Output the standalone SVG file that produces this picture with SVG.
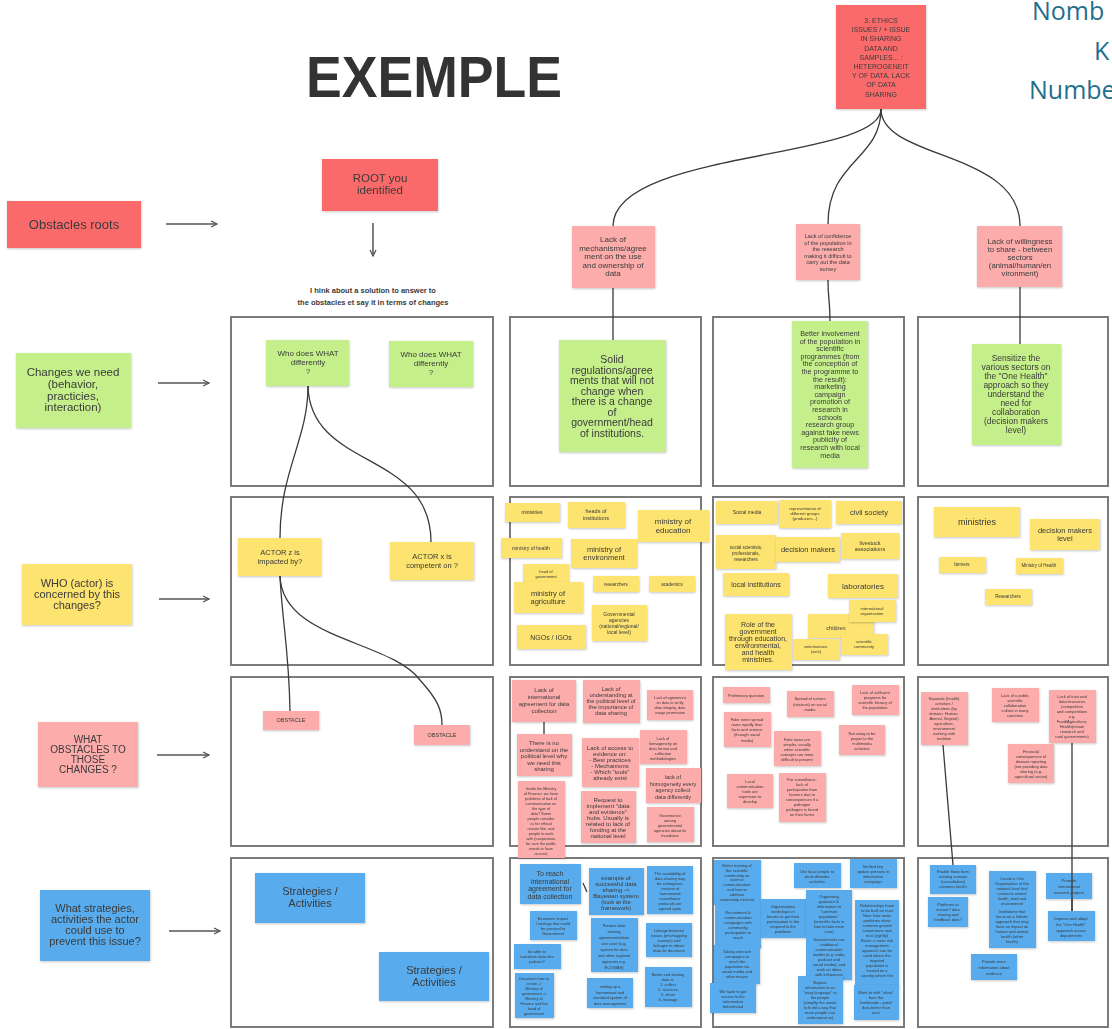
<svg xmlns="http://www.w3.org/2000/svg" width="1112" height="1029" viewBox="0 0 1112 1029">
<style>
.r{fill:#fb6b6b}.p{fill:#fdacac}.g{fill:#c5ef8b}.y{fill:#fde36f}.b{fill:#58abec}
.n{filter:url(#sh)}
.t{font-family:"Liberation Sans",Arial,sans-serif;fill:#3a3a3a;text-anchor:middle}
.box{fill:none;stroke:#7a7a7a;stroke-width:2}
.c{fill:none;stroke:#3a3a3a;stroke-width:1.3}
.a{fill:none;stroke:#555;stroke-width:1.5;marker-end:url(#ah)}
.tl{font-family:"Open Sans","Liberation Sans",sans-serif;fill:#1f6f8c;font-size:25px}
</style>
<defs>
<filter id="sh" x="-10%" y="-10%" width="120%" height="130%"><feDropShadow dx="0.5" dy="1" stdDeviation="0.8" flood-color="#000" flood-opacity="0.22"/></filter>
<marker id="ah" markerWidth="8" markerHeight="8" refX="7" refY="4" orient="auto" markerUnits="userSpaceOnUse"><path d="M1,1 L7,4 L1,7" fill="none" stroke="#555" stroke-width="1.3"/></marker>
</defs>
<rect width="1112" height="1029" fill="#fff"/>

<g id="title"><text x="306" y="97" font-family="Liberation Sans,Arial,sans-serif" font-weight="bold" font-size="58" fill="#333" textLength="256" lengthAdjust="spacingAndGlyphs">EXEMPLE</text></g>
<g id="corner-text"><text class="tl" x="1032" y="20">Nomb</text><text class="tl" x="1094" y="60">K</text><text class="tl" x="1029" y="99">Numbe</text></g>

<g id="frames">
<rect class="box" x="231" y="317" width="262" height="169"/><rect class="box" x="510" y="317" width="191" height="169"/><rect class="box" x="713" y="317" width="191" height="169"/><rect class="box" x="918" y="317" width="190" height="169"/>
<rect class="box" x="231" y="497" width="262" height="168"/><rect class="box" x="510" y="497" width="191" height="168"/><rect class="box" x="713" y="497" width="191" height="168"/><rect class="box" x="918" y="497" width="190" height="168"/>
<rect class="box" x="231" y="677" width="262" height="169"/><rect class="box" x="510" y="677" width="191" height="169"/><rect class="box" x="713" y="677" width="191" height="169"/><rect class="box" x="918" y="677" width="190" height="169"/>
<rect class="box" x="231" y="858" width="262" height="169"/><rect class="box" x="510" y="858" width="191" height="169"/><rect class="box" x="713" y="858" width="191" height="169"/><rect class="box" x="918" y="858" width="190" height="169"/>
</g>

<g id="connectors">
<path class="c" d="M881,109 C881,160 613,150 613,226"/>
<path class="c" d="M881,109 C881,160 828,160 828,224"/>
<path class="c" d="M881,109 C881,160 1020,150 1020,226"/>
<path class="c" d="M613,288 L613,340"/>
<path class="c" d="M828,280 C828,300 830,300 830,321"/>
<path class="c" d="M1020,287 L1020,344"/>
<path class="c" d="M308,386 C308,440 280,470 280,538"/>
<path class="c" d="M308,386 C310,470 431,450 431,542"/>
<path class="c" d="M280,576 C282,620 289,650 290,711"/>
<path class="c" d="M280,576 C282,640 390,640 420,680 C438,700 442,710 442,725"/>
<path class="c" d="M943,745 L953,865"/>
<path class="c" d="M1072,743 L1072,911"/>
<path class="c" d="M544,722 L544,734"/>
<path class="c" d="M583,883 L587,892"/>
<path class="c" d="M823,973 L829,983"/>
<path class="c" d="M877,983 L878,989"/>
<path class="a" d="M166,224 L217,224"/>
<path class="a" d="M373,223 L373,256"/>
<path class="a" d="M158,383 L209,383"/>
<path class="a" d="M159,599 L209,599"/>
<path class="a" d="M157,755 L209,755"/>
<path class="a" d="M169,931 L220,931"/>
</g>

<g id="ethics" class="n"><rect class="r" x="836" y="5" width="90" height="104"/><text class="t" font-size="7"><tspan x="881" y="23">3. ETHICS</tspan><tspan x="881" y="32.2">ISSUES / + ISSUE</tspan><tspan x="881" y="41.4">IN SHARING</tspan><tspan x="881" y="50.6">DATA AND</tspan><tspan x="881" y="59.8">SAMPLES... :</tspan><tspan x="881" y="69">HETEROGENEIT</tspan><tspan x="881" y="78.2">Y OF DATA, LACK</tspan><tspan x="881" y="87.4">OF DATA</tspan><tspan x="881" y="96.6">SHARING</tspan></text></g>

<g id="obstacles-roots" class="n"><rect class="r" x="7" y="201" width="134" height="47"/><text class="t" font-size="13" x="74" y="229">Obstacles roots</text></g>
<g id="root" class="n"><rect class="r" x="322" y="159" width="116" height="52"/><text class="t" font-size="11.5"><tspan x="380" y="182">ROOT you</tspan><tspan x="380" y="194">identified</tspan></text></g>
<g id="think"><text class="t" font-size="7.5" font-weight="bold"><tspan x="373" y="293">I hink about a solution to answer to</tspan><tspan x="373" y="305">the obstacles et say it in terms of changes</tspan></text></g>

<g id="changes-label" class="n"><rect class="g" x="16" y="353" width="115" height="75"/><text class="t" font-size="11.5"><tspan x="73" y="376">Changes we need</tspan><tspan x="73" y="388">(behavior,</tspan><tspan x="73" y="400">practicies,</tspan><tspan x="73" y="411">interaction)</tspan></text></g>
<g id="who-label" class="n"><rect class="y" x="22" y="564" width="110" height="61"/><text class="t" font-size="11"><tspan x="77" y="587">WHO (actor) is</tspan><tspan x="77" y="598">concerned by this</tspan><tspan x="77" y="609">changes?</tspan></text></g>
<g id="what-label" class="n"><rect class="p" x="38" y="722" width="100" height="65"/><text class="t" font-size="10"><tspan x="88" y="743">WHAT</tspan><tspan x="88" y="753">OBSTACLES TO</tspan><tspan x="88" y="763">THOSE</tspan><tspan x="88" y="773">CHANGES ?</tspan></text></g>
<g id="strat-label" class="n"><rect class="b" x="40" y="890" width="110" height="71"/><text class="t" font-size="11"><tspan x="95" y="912">What strategies,</tspan><tspan x="95" y="923">activities the actor</tspan><tspan x="95" y="934">could use to</tspan><tspan x="95" y="945">prevent this issue?</tspan></text></g>

<g id="who-what-1" class="n"><rect class="g" x="266" y="340" width="83" height="46"/><text class="t" font-size="8"><tspan x="308" y="356">Who does WHAT</tspan><tspan x="308" y="365">differently</tspan><tspan x="308" y="374">?</tspan></text></g>
<g id="who-what-2" class="n"><rect class="g" x="389" y="341" width="84" height="46"/><text class="t" font-size="8"><tspan x="431" y="357">Who does WHAT</tspan><tspan x="431" y="366">differently</tspan><tspan x="431" y="375">?</tspan></text></g>
<g id="actor-z" class="n"><rect class="y" x="238" y="538" width="83" height="38"/><text class="t" font-size="7.5"><tspan x="280" y="555">ACTOR z is</tspan><tspan x="280" y="564">impacted by?</tspan></text></g>
<g id="actor-x" class="n"><rect class="y" x="390" y="542" width="84" height="38"/><text class="t" font-size="7.5"><tspan x="432" y="559">ACTOR x is</tspan><tspan x="432" y="568">competent on ?</tspan></text></g>
<g id="obstacle-1" class="n"><rect class="p" x="263" y="711" width="56" height="19"/><text class="t" font-size="5.5" x="291" y="722">OBSTACLE</text></g>
<g id="obstacle-2" class="n"><rect class="p" x="414" y="725" width="56" height="20"/><text class="t" font-size="5.5" x="442" y="737">OBSTACLE</text></g>
<g id="strategies-1" class="n"><rect class="b" x="255" y="873" width="110" height="50"/><text class="t" font-size="11"><tspan x="310" y="895">Strategies /</tspan><tspan x="310" y="907">Activities</tspan></text></g>
<g id="strategies-2" class="n"><rect class="b" x="379" y="952" width="110" height="49"/><text class="t" font-size="11"><tspan x="434" y="974">Strategies /</tspan><tspan x="434" y="986">Activities</tspan></text></g>

<g id="root-1" class="n"><rect class="p" x="572" y="226" width="83" height="62"/><text class="t" font-size="8"><tspan x="613" y="242">Lack of</tspan><tspan x="613" y="250.5">mechanisms/agree</tspan><tspan x="613" y="259">ment on the use</tspan><tspan x="613" y="267.5">and ownership of</tspan><tspan x="613" y="276">data</tspan></text></g>
<g id="root-2" class="n"><rect class="p" x="796" y="224" width="64" height="56"/><text class="t" font-size="5.6"><tspan x="828" y="238">Lack of confidence</tspan><tspan x="828" y="244.6">of the population in</tspan><tspan x="828" y="251.2">the research</tspan><tspan x="828" y="257.8">making it difficult to</tspan><tspan x="828" y="264.4">carry out the data</tspan><tspan x="828" y="271">survey</tspan></text></g>
<g id="root-3" class="n"><rect class="p" x="977" y="226" width="85" height="61"/><text class="t" font-size="7.8"><tspan x="1020" y="244">Lack of willingness</tspan><tspan x="1020" y="252">to share - between</tspan><tspan x="1020" y="260">sectors</tspan><tspan x="1020" y="268">(animal/human/en</tspan><tspan x="1020" y="276">vironment)</tspan></text></g>

<g id="change-b" class="n"><rect class="g" x="559" y="340" width="107" height="112"/><text class="t" font-size="10.5"><tspan x="612" y="363">Solid</tspan><tspan x="612" y="373.5">regulations/agree</tspan><tspan x="612" y="384">ments that will not</tspan><tspan x="612" y="394.5">change when</tspan><tspan x="612" y="405">there is a change</tspan><tspan x="612" y="415.5">of</tspan><tspan x="612" y="426">government/head</tspan><tspan x="612" y="436.5">of institutions.</tspan></text></g>
<g id="change-c" class="n"><rect class="g" x="792" y="321" width="76" height="147"/><text class="t" font-size="7.2"><tspan x="830" y="336">Better involvement</tspan><tspan x="830" y="343.6">of the population in</tspan><tspan x="830" y="351.2">scientific</tspan><tspan x="830" y="358.8">programmes (from</tspan><tspan x="830" y="366.4">the conception of</tspan><tspan x="830" y="374">the programme to</tspan><tspan x="830" y="381.6">the result):</tspan><tspan x="830" y="389.2">marketing</tspan><tspan x="830" y="396.8">campaign</tspan><tspan x="830" y="404.4">promotion of</tspan><tspan x="830" y="412">research in</tspan><tspan x="830" y="419.6">schools</tspan><tspan x="830" y="427.2">research group</tspan><tspan x="830" y="434.8">against fake news</tspan><tspan x="830" y="442.4">publicity of</tspan><tspan x="830" y="450">research with local</tspan><tspan x="830" y="457.6">media</tspan></text></g>
<g id="change-d" class="n"><rect class="g" x="972" y="344" width="89" height="101"/><text class="t" font-size="8.5"><tspan x="1016" y="361">Sensitize the</tspan><tspan x="1016" y="370">various sectors on</tspan><tspan x="1016" y="379">the "One Health"</tspan><tspan x="1016" y="388">approach so they</tspan><tspan x="1016" y="397">understand the</tspan><tspan x="1016" y="406">need for</tspan><tspan x="1016" y="415">collaboration</tspan><tspan x="1016" y="424">(decision makers</tspan><tspan x="1016" y="433">level)</tspan></text></g>

<g id="who-b">
<g class="n"><rect class="y" x="505" y="503" width="55" height="19"/><text class="t" font-size="5" x="532" y="514">ministries</text></g>
<g class="n"><rect class="y" x="568" y="502" width="57" height="26"/><text class="t" font-size="5.5"><tspan x="596" y="513">heads of</tspan><tspan x="596" y="520">institutions</tspan></text></g>
<g class="n"><rect class="y" x="638" y="510" width="71" height="32"/><text class="t" font-size="8"><tspan x="673" y="524">ministry of</tspan><tspan x="673" y="533">education</tspan></text></g>
<g class="n"><rect class="y" x="501" y="538" width="61" height="20"/><text class="t" font-size="5" x="531" y="550">ministry of health</text></g>
<g class="n"><rect class="y" x="571" y="539" width="66" height="29"/><text class="t" font-size="7.5"><tspan x="604" y="552">ministry of</tspan><tspan x="604" y="560">environment</tspan></text></g>
<g class="n"><rect class="y" x="523" y="564" width="46" height="20"/><text class="t" font-size="4"><tspan x="546" y="573">head of</tspan><tspan x="546" y="578">government</tspan></text></g>
<g class="n"><rect class="y" x="514" y="582" width="69" height="31"/><text class="t" font-size="7.5"><tspan x="548" y="596">ministry of</tspan><tspan x="548" y="604">agriculture</tspan></text></g>
<g class="n"><rect class="y" x="593" y="576" width="46" height="16"/><text class="t" font-size="4.5" x="616" y="586">researchers</text></g>
<g class="n"><rect class="y" x="649" y="576" width="46" height="16"/><text class="t" font-size="4.5" x="672" y="586">academics</text></g>
<g class="n"><rect class="y" x="592" y="605" width="55" height="36"/><text class="t" font-size="5"><tspan x="619" y="616">Governmental</tspan><tspan x="619" y="622">agencies</tspan><tspan x="619" y="628">(national/regional/</tspan><tspan x="619" y="634">local level)</tspan></text></g>
<g class="n"><rect class="y" x="517" y="625" width="69" height="24"/><text class="t" font-size="7" x="551" y="640">NGOs / IGOs</text></g>
</g>

<g id="who-c">
<g class="n"><rect class="y" x="716" y="501" width="62" height="23"/><text class="t" font-size="5" x="747" y="514">Social media</text></g>
<g class="n"><rect class="y" x="779" y="500" width="52" height="28"/><text class="t" font-size="4.2"><tspan x="805" y="510">representation of</tspan><tspan x="805" y="515">different groups</tspan><tspan x="805" y="520">(producers...)</tspan></text></g>
<g class="n"><rect class="y" x="836" y="501" width="66" height="23"/><text class="t" font-size="7.5" x="869" y="515">civil society</text></g>
<g class="n"><rect class="y" x="716" y="535" width="60" height="34"/><text class="t" font-size="4.5"><tspan x="746" y="549">social scientists,</tspan><tspan x="746" y="555">professionals,</tspan><tspan x="746" y="561">researchers</tspan></text></g>
<g class="n"><rect class="y" x="776" y="537" width="64" height="25"/><text class="t" font-size="7.5" x="808" y="552">decision makers</text></g>
<g class="n"><rect class="y" x="841" y="533" width="58" height="26"/><text class="t" font-size="5.5"><tspan x="870" y="545">livestock</tspan><tspan x="870" y="551">associations</tspan></text></g>
<g class="n"><rect class="y" x="723" y="573" width="66" height="23"/><text class="t" font-size="7" x="756" y="587">local institutions</text></g>
<g class="n"><rect class="y" x="828" y="574" width="70" height="24"/><text class="t" font-size="8" x="863" y="589">laboratories</text></g>
<g class="n"><rect class="y" x="808" y="614" width="66" height="24"/><text class="t" font-size="5.5" x="836" y="630">children</text></g>
<g class="n"><rect class="y" x="849" y="600" width="47" height="22"/><text class="t" font-size="4.2"><tspan x="872" y="610">international</tspan><tspan x="872" y="615">organisation</tspan></text></g>
<g class="n"><rect class="y" x="725" y="614" width="67" height="56"/><text class="t" font-size="7"><tspan x="758" y="627">Role of the</tspan><tspan x="758" y="634">government</tspan><tspan x="758" y="641">through education,</tspan><tspan x="758" y="648">environmental,</tspan><tspan x="758" y="655">and health</tspan><tspan x="758" y="662">ministries.</tspan></text></g>
<g class="n"><rect class="y" x="793" y="639" width="47" height="21"/><text class="t" font-size="4"><tspan x="816" y="648">veterinarians,</tspan><tspan x="816" y="653">(vets)</tspan></text></g>
<g class="n"><rect class="y" x="841" y="634" width="47" height="21"/><text class="t" font-size="4.2"><tspan x="864" y="643">scientific</tspan><tspan x="864" y="648">community</tspan></text></g>
</g>

<g id="who-d">
<g class="n"><rect class="y" x="934" y="507" width="86" height="30"/><text class="t" font-size="9" x="977" y="525">ministries</text></g>
<g class="n"><rect class="y" x="1030" y="519" width="70" height="31"/><text class="t" font-size="7.5"><tspan x="1065" y="533">decision makers</tspan><tspan x="1065" y="541">level</tspan></text></g>
<g class="n"><rect class="y" x="939" y="557" width="47" height="16"/><text class="t" font-size="4.5" x="962" y="566">farmers</text></g>
<g class="n"><rect class="y" x="1016" y="558" width="47" height="16"/><text class="t" font-size="4.5" x="1039" y="567">Ministry of Health</text></g>
<g class="n"><rect class="y" x="985" y="589" width="47" height="16"/><text class="t" font-size="4.5" x="1008" y="598">Researchers</text></g>
</g>

<g id="obst-b">
<g class="n"><rect class="p" x="512" y="680" width="64" height="42"/><text class="t" font-size="6"><tspan x="544" y="692">Lack of</tspan><tspan x="544" y="699">international</tspan><tspan x="544" y="706">agreement for data</tspan><tspan x="544" y="713">collection</tspan></text></g>
<g class="n"><rect class="p" x="583" y="680" width="57" height="43"/><text class="t" font-size="5.8"><tspan x="611" y="691">Lack of</tspan><tspan x="611" y="697">understanding at</tspan><tspan x="611" y="703">the political level of</tspan><tspan x="611" y="709">the importance of</tspan><tspan x="611" y="715">data sharing</tspan></text></g>
<g class="n"><rect class="p" x="647" y="690" width="46" height="30"/><text class="t" font-size="3.8"><tspan x="670" y="699">Lack of agreement</tspan><tspan x="670" y="704">on data to verify</tspan><tspan x="670" y="709">data integrity, data</tspan><tspan x="670" y="714">usage permission</tspan></text></g>
<g class="n"><rect class="p" x="517" y="734" width="55" height="42"/><text class="t" font-size="6"><tspan x="544" y="745">There is no</tspan><tspan x="544" y="751.5">understand on the</tspan><tspan x="544" y="758">political level why</tspan><tspan x="544" y="764.5">we need this</tspan><tspan x="544" y="771">sharing</tspan></text></g>
<g class="n"><rect class="p" x="582" y="738" width="57" height="49"/><text class="t" font-size="6"><tspan x="610" y="750">Lack of access to</tspan><tspan x="610" y="756">evidence on:</tspan><tspan x="610" y="762">- Best practices</tspan><tspan x="610" y="768">- Mechanisms</tspan><tspan x="610" y="774">- Which "tools"</tspan><tspan x="610" y="780">already exist</tspan></text></g>
<g class="n"><rect class="p" x="640" y="730" width="47" height="34"/><text class="t" font-size="4"><tspan x="663" y="740">Lack of</tspan><tspan x="663" y="745">homogeneity on</tspan><tspan x="663" y="750">data format and</tspan><tspan x="663" y="755">collection</tspan><tspan x="663" y="760">methodologies</tspan></text></g>
<g class="n"><rect class="p" x="646" y="768" width="55" height="35"/><text class="t" font-size="5.5"><tspan x="673" y="779">lack of</tspan><tspan x="673" y="785.5">homogeneity every</tspan><tspan x="673" y="792">agency collect</tspan><tspan x="673" y="798.5">data differently</tspan></text></g>
<g class="n"><rect class="p" x="518" y="781" width="47" height="77"/><text class="t" font-size="3.8"><tspan x="541" y="790">Inside the Ministry</tspan><tspan x="541" y="795">of Finance: we have</tspan><tspan x="541" y="800">problems of lack of</tspan><tspan x="541" y="805">communication on</tspan><tspan x="541" y="810">the type of</tspan><tspan x="541" y="815">data? Some</tspan><tspan x="541" y="820">people consider</tspan><tspan x="541" y="825">us for ethical</tspan><tspan x="541" y="830">reason like, and</tspan><tspan x="541" y="835">people to work</tspan><tspan x="541" y="840">with (cooperation</tspan><tspan x="541" y="845">for sure the public</tspan><tspan x="541" y="850">needs to have</tspan><tspan x="541" y="855">access)</tspan></text></g>
<g class="n"><rect class="p" x="581" y="791" width="55" height="52"/><text class="t" font-size="6"><tspan x="608" y="802">Request to</tspan><tspan x="608" y="808">implement "data</tspan><tspan x="608" y="814">and evidence"</tspan><tspan x="608" y="820">hubs. Usually is</tspan><tspan x="608" y="826">related to lack of</tspan><tspan x="608" y="832">funding at the</tspan><tspan x="608" y="838">national level</tspan></text></g>
<g class="n"><rect class="p" x="647" y="807" width="47" height="35"/><text class="t" font-size="4"><tspan x="670" y="817">Governance</tspan><tspan x="670" y="822">among</tspan><tspan x="670" y="827">governmental</tspan><tspan x="670" y="832">agencies about its</tspan><tspan x="670" y="837">mandates</tspan></text></g>
</g>

<g id="obst-c">
<g class="n"><rect class="p" x="723" y="687" width="47" height="16"/><text class="t" font-size="4" x="746" y="697">Preliminary question</text></g>
<g class="n"><rect class="p" x="787" y="691" width="47" height="26"/><text class="t" font-size="4"><tspan x="810" y="700">Spread of rumors</tspan><tspan x="810" y="705.5">(mistrust) on social</tspan><tspan x="810" y="711">media</tspan></text></g>
<g class="n"><rect class="p" x="852" y="685" width="47" height="30"/><text class="t" font-size="4"><tspan x="875" y="694">Lack of sufficient</tspan><tspan x="875" y="699">programs for</tspan><tspan x="875" y="704">scientific literacy of</tspan><tspan x="875" y="709">the population</tspan></text></g>
<g class="n"><rect class="p" x="724" y="712" width="47" height="35"/><text class="t" font-size="4"><tspan x="747" y="721">Fake news spread</tspan><tspan x="747" y="726">more rapidly than</tspan><tspan x="747" y="731">facts and science</tspan><tspan x="747" y="736">(through social</tspan><tspan x="747" y="742">media)</tspan></text></g>
<g class="n"><rect class="p" x="774" y="731" width="47" height="35"/><text class="t" font-size="4"><tspan x="797" y="741">Fake news are</tspan><tspan x="797" y="746">simpler, usually</tspan><tspan x="797" y="751">when scientific</tspan><tspan x="797" y="756">concepts are more</tspan><tspan x="797" y="761">difficult to present</tspan></text></g>
<g class="n"><rect class="p" x="839" y="725" width="46" height="30"/><text class="t" font-size="4"><tspan x="862" y="735">Not using to be</tspan><tspan x="862" y="740">proper to the</tspan><tspan x="862" y="745">multimedia</tspan><tspan x="862" y="750">activities</tspan></text></g>
<g class="n"><rect class="p" x="727" y="774" width="46" height="34"/><text class="t" font-size="4"><tspan x="750" y="783">Local</tspan><tspan x="750" y="788">communication</tspan><tspan x="750" y="793">tools are</tspan><tspan x="750" y="798">expensive to</tspan><tspan x="750" y="803">develop</tspan></text></g>
<g class="n"><rect class="p" x="779" y="773" width="47" height="49"/><text class="t" font-size="4"><tspan x="802" y="781">For surveillance:</tspan><tspan x="802" y="786">lack of</tspan><tspan x="802" y="791">participation from</tspan><tspan x="802" y="796">farmers due to</tspan><tspan x="802" y="801">consequences if a</tspan><tspan x="802" y="806">pathogen</tspan><tspan x="802" y="811">pathogen is found</tspan><tspan x="802" y="816">on their farms</tspan></text></g>
</g>

<g id="obst-d">
<g class="n"><rect class="p" x="921" y="692" width="47" height="53"/><text class="t" font-size="4"><tspan x="944" y="700">Separate (health)</tspan><tspan x="944" y="705">activities /</tspan><tspan x="944" y="710">institutions (by</tspan><tspan x="944" y="715">domain: Human,</tspan><tspan x="944" y="720">Animal, Vegetal)</tspan><tspan x="944" y="725">agriculture,</tspan><tspan x="944" y="730">environment</tspan><tspan x="944" y="735">working with</tspan><tspan x="944" y="740">tradition</tspan></text></g>
<g class="n"><rect class="p" x="992" y="688" width="47" height="34"/><text class="t" font-size="4"><tspan x="1015" y="697">Lack of a public</tspan><tspan x="1015" y="702">scientific</tspan><tspan x="1015" y="707">collaboration</tspan><tspan x="1015" y="712">culture in many</tspan><tspan x="1015" y="717">countries</tspan></text></g>
<g class="n"><rect class="p" x="1049" y="690" width="47" height="53"/><text class="t" font-size="4"><tspan x="1072" y="698">Lack of trust and</tspan><tspan x="1072" y="703">data/resources</tspan><tspan x="1072" y="708">(competition</tspan><tspan x="1072" y="713">and competitions</tspan><tspan x="1072" y="718">e.g.</tspan><tspan x="1072" y="723">Food/Agriculture,</tspan><tspan x="1072" y="728">Health/private</tspan><tspan x="1072" y="733">research and</tspan><tspan x="1072" y="738">rural governments)</tspan></text></g>
<g class="n"><rect class="p" x="1008" y="744" width="46" height="39"/><text class="t" font-size="4"><tspan x="1031" y="753">Financial</tspan><tspan x="1031" y="758">consequences of</tspan><tspan x="1031" y="763">disease reporting</tspan><tspan x="1031" y="768">(not providing data</tspan><tspan x="1031" y="773">sharing (e.g.</tspan><tspan x="1031" y="778">agricultural sector)</tspan></text></g>
</g>

<g id="strat-b">
<g class="n"><rect class="b" x="520" y="864" width="61" height="40"/><text class="t" font-size="7"><tspan x="550" y="876">To reach</tspan><tspan x="550" y="883.5">international</tspan><tspan x="550" y="891">agreement for</tspan><tspan x="550" y="898.5">data collection</tspan></text></g>
<g class="n"><rect class="b" x="589" y="868" width="55" height="47"/><text class="t" font-size="6"><tspan x="616" y="880">example of</tspan><tspan x="616" y="886">successful data</tspan><tspan x="616" y="892">sharing -&gt;</tspan><tspan x="616" y="898">Bayesian system</tspan><tspan x="616" y="904">(look at the</tspan><tspan x="616" y="910">framework)</tspan></text></g>
<g class="n"><rect class="b" x="647" y="866" width="46" height="48"/><text class="t" font-size="4"><tspan x="670" y="875">The availability of</tspan><tspan x="670" y="880">data sharing may</tspan><tspan x="670" y="885">be contagious:</tspan><tspan x="670" y="890">creation of</tspan><tspan x="670" y="895">harmonized</tspan><tspan x="670" y="900">surveillance</tspan><tspan x="670" y="905">protocols are</tspan><tspan x="670" y="910">agreed upon</tspan></text></g>
<g class="n"><rect class="b" x="530" y="911" width="47" height="29"/><text class="t" font-size="4"><tspan x="553" y="920">Economic impact</tspan><tspan x="553" y="925">/ savings that could</tspan><tspan x="553" y="930">be pressed to</tspan><tspan x="553" y="935">Government</tspan></text></g>
<g class="n"><rect class="b" x="591" y="918" width="47" height="54"/><text class="t" font-size="4"><tspan x="614" y="927">Forums data</tspan><tspan x="614" y="933">sharing</tspan><tspan x="614" y="939">agreements/data</tspan><tspan x="614" y="945">use case (e.g.</tspan><tspan x="614" y="951">system for data</tspan><tspan x="614" y="957">and other regional</tspan><tspan x="614" y="963">agencies e.g.</tspan><tspan x="614" y="969">ECOWAS)</tspan></text></g>
<g class="n"><rect class="b" x="646" y="923" width="46" height="34"/><text class="t" font-size="4"><tspan x="669" y="932">Linkage between</tspan><tspan x="669" y="937">issues (envmapping</tspan><tspan x="669" y="942">surveys) and</tspan><tspan x="669" y="947">linkages to obtain</tspan><tspan x="669" y="952">data for decisions</tspan></text></g>
<g class="n"><rect class="b" x="514" y="944" width="47" height="25"/><text class="t" font-size="4"><tspan x="537" y="953">be able to</tspan><tspan x="537" y="958">transform data into</tspan><tspan x="537" y="963">policies?</tspan></text></g>
<g class="n"><rect class="b" x="515" y="973" width="39" height="45"/><text class="t" font-size="3.8"><tspan x="534" y="980">Document how to</tspan><tspan x="534" y="985">create -&gt;</tspan><tspan x="534" y="990">Ministry of</tspan><tspan x="534" y="995">government -&gt;</tspan><tspan x="534" y="1000">Ministry of</tspan><tspan x="534" y="1005">Finance and the</tspan><tspan x="534" y="1010">head of</tspan><tspan x="534" y="1015">government</tspan></text></g>
<g class="n"><rect class="b" x="587" y="978" width="46" height="30"/><text class="t" font-size="4"><tspan x="610" y="988">setting up a</tspan><tspan x="610" y="993.5">harmonized and</tspan><tspan x="610" y="999">standard system of</tspan><tspan x="610" y="1004.5">data management</tspan></text></g>
<g class="n"><rect class="b" x="645" y="967" width="47" height="40"/><text class="t" font-size="4"><tspan x="668" y="976">Better and sharing</tspan><tspan x="668" y="981">data is:</tspan><tspan x="668" y="986">1. collect</tspan><tspan x="668" y="991">2. structure</tspan><tspan x="668" y="996">3. share</tspan><tspan x="668" y="1001">4. manage</tspan></text></g>
</g>

<g id="strat-c">
<g class="n"><rect class="b" x="714" y="860" width="47" height="45"/><text class="t" font-size="4"><tspan x="737" y="867">Better training of</tspan><tspan x="737" y="871.8">the scientific</tspan><tspan x="737" y="876.6">community on</tspan><tspan x="737" y="881.4">science</tspan><tspan x="737" y="886.2">communication</tspan><tspan x="737" y="891">and how to</tspan><tspan x="737" y="895.8">address</tspan><tspan x="737" y="900.6">community mistrust</tspan></text></g>
<g class="n"><rect class="b" x="715" y="905" width="46" height="43"/><text class="t" font-size="4"><tspan x="738" y="914">Recruitment &amp;</tspan><tspan x="738" y="919">communication</tspan><tspan x="738" y="924">campaigns with</tspan><tspan x="738" y="929">community</tspan><tspan x="738" y="934">participation to</tspan><tspan x="738" y="939">reach</tspan></text></g>
<g class="n"><rect class="b" x="714" y="945" width="46" height="39"/><text class="t" font-size="4"><tspan x="737" y="953">Taking outreach</tspan><tspan x="737" y="958">campaigns to</tspan><tspan x="737" y="963">reach the</tspan><tspan x="737" y="968">population via</tspan><tspan x="737" y="973">social media and</tspan><tspan x="737" y="978">other means</tspan></text></g>
<g class="n"><rect class="b" x="710" y="983" width="46" height="30"/><text class="t" font-size="4"><tspan x="733" y="993">We have to get</tspan><tspan x="733" y="998">access to the</tspan><tspan x="733" y="1003">information</tspan><tspan x="733" y="1008">beforehand</tspan></text></g>
<g class="n"><rect class="b" x="761" y="899" width="45" height="39"/><text class="t" font-size="4"><tspan x="783" y="908">Organisations</tspan><tspan x="783" y="913">workshops in</tspan><tspan x="783" y="918">forums to get their</tspan><tspan x="783" y="923">participation in the</tspan><tspan x="783" y="928">respond to the</tspan><tspan x="783" y="933">problems</tspan></text></g>
<g class="n"><rect class="b" x="794" y="863" width="47" height="25"/><text class="t" font-size="4"><tspan x="817" y="873">Use local people to</tspan><tspan x="817" y="878">do multimedia</tspan><tspan x="817" y="883">activities</tspan></text></g>
<g class="n"><rect class="b" x="850" y="859" width="47" height="29"/><text class="t" font-size="4"><tspan x="873" y="868">Verified key</tspan><tspan x="873" y="873">spokes persons in</tspan><tspan x="873" y="878">information</tspan><tspan x="873" y="883">campaign</tspan></text></g>
<g class="n"><rect class="b" x="806" y="890" width="46" height="90"/><text class="t" font-size="4"><tspan x="829" y="898">Organising</tspan><tspan x="829" y="903">guidance &amp;</tspan><tspan x="829" y="908">information to</tspan><tspan x="829" y="913">"common</tspan><tspan x="829" y="918">population"</tspan><tspan x="829" y="923">(scientific facts in</tspan><tspan x="829" y="928">how to take more</tspan><tspan x="829" y="933">care)</tspan><tspan x="829" y="941">Governments use</tspan><tspan x="829" y="946">traditional</tspan><tspan x="829" y="951">communication</tspan><tspan x="829" y="956">modes (e.g. radio,</tspan><tspan x="829" y="961">podcast and</tspan><tspan x="829" y="966">social media), and</tspan><tspan x="829" y="971">work on ideas</tspan><tspan x="829" y="976">with influencers</tspan></text></g>
<g class="n"><rect class="b" x="798" y="976" width="45" height="48"/><text class="t" font-size="4"><tspan x="820" y="984">Explain</tspan><tspan x="820" y="989">information in an</tspan><tspan x="820" y="994">"easy language" to</tspan><tspan x="820" y="999">the people</tspan><tspan x="820" y="1004">(simplify the words</tspan><tspan x="820" y="1009">to build a way that</tspan><tspan x="820" y="1014">more people can</tspan><tspan x="820" y="1019">understand us)</tspan></text></g>
<g class="n"><rect class="b" x="855" y="900" width="44" height="87"/><text class="t" font-size="4"><tspan x="877" y="907">Relationships have</tspan><tspan x="877" y="912">to be built on trust</tspan><tspan x="877" y="917">Now: fake news</tspan><tspan x="877" y="922">problems show</tspan><tspan x="877" y="927">common ground</tspan><tspan x="877" y="932">connections and</tspan><tspan x="877" y="937">trust (rightly)</tspan><tspan x="877" y="942">Basis: a more risk</tspan><tspan x="877" y="947">management</tspan><tspan x="877" y="952">approach can be</tspan><tspan x="877" y="957">used where the</tspan><tspan x="877" y="962">targeted</tspan><tspan x="877" y="967">population is</tspan><tspan x="877" y="972">trusted on a</tspan><tspan x="877" y="977">country where the</tspan></text></g>
<g class="n"><rect class="b" x="854" y="985" width="45" height="35"/><text class="t" font-size="4"><tspan x="876" y="994">Work to shift "show"</tspan><tspan x="876" y="999">from the</tspan><tspan x="876" y="1004">livelihoods - proof</tspan><tspan x="876" y="1009">data better than</tspan><tspan x="876" y="1014">ours</tspan></text></g>
</g>

<g id="strat-d">
<g class="n"><rect class="b" x="930" y="865" width="46" height="29"/><text class="t" font-size="4"><tspan x="953" y="873">Enable flows from</tspan><tspan x="953" y="878">existing surveys</tspan><tspan x="953" y="883">(consultation)</tspan><tspan x="953" y="888">common health</tspan></text></g>
<g class="n"><rect class="b" x="928" y="897" width="40" height="30"/><text class="t" font-size="4"><tspan x="948" y="906">Platforms to</tspan><tspan x="948" y="911">ensure? data</tspan><tspan x="948" y="916">sharing and</tspan><tspan x="948" y="921">feedback data?</tspan></text></g>
<g class="n"><rect class="b" x="989" y="871" width="47" height="77"/><text class="t" font-size="4"><tspan x="1012" y="880">Create a One</tspan><tspan x="1012" y="885">Organisation at the</tspan><tspan x="1012" y="890">national level that</tspan><tspan x="1012" y="895">connects animal</tspan><tspan x="1012" y="900">health, food and</tspan><tspan x="1012" y="905">environment</tspan><tspan x="1012" y="913">Institutions that</tspan><tspan x="1012" y="918">focus on a holistic</tspan><tspan x="1012" y="923">approach that may</tspan><tspan x="1012" y="928">have an impact on</tspan><tspan x="1012" y="933">human and animal</tspan><tspan x="1012" y="938">health (other</tspan><tspan x="1012" y="943">health)</tspan></text></g>
<g class="n"><rect class="b" x="1046" y="873" width="46" height="26"/><text class="t" font-size="4"><tspan x="1069" y="882">Promote</tspan><tspan x="1069" y="888">international</tspan><tspan x="1069" y="894">research projects</tspan></text></g>
<g class="n"><rect class="b" x="1048" y="911" width="47" height="30"/><text class="t" font-size="4"><tspan x="1071" y="920">Improve and adapt</tspan><tspan x="1071" y="926">the "One Health"</tspan><tspan x="1071" y="932">approach across</tspan><tspan x="1071" y="937">departments</tspan></text></g>
<g class="n"><rect class="b" x="971" y="954" width="46" height="26"/><text class="t" font-size="4"><tspan x="994" y="963">Provide more</tspan><tspan x="994" y="969">information about</tspan><tspan x="994" y="975">evidence</tspan></text></g>
</g>

<g id="overlay-lines"><path class="c" d="M1072,873 L1072,911"/></g>
</svg>
